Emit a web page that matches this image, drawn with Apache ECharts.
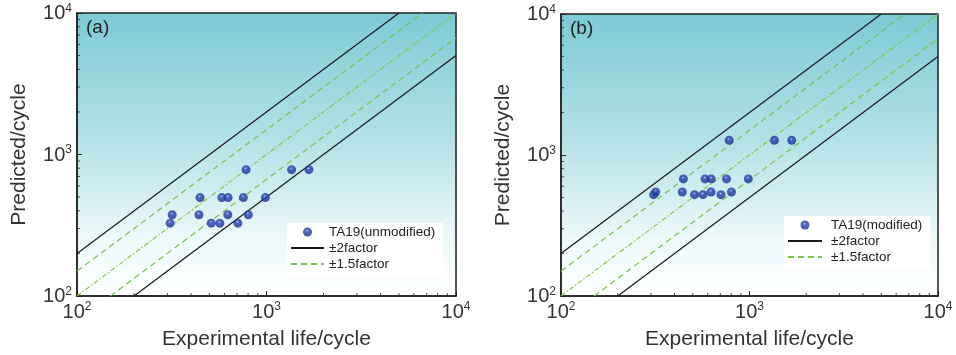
<!DOCTYPE html>
<html>
<head>
<meta charset="utf-8">
<script src="https://cdn.jsdelivr.net/npm/echarts@6/dist/echarts.min.js"></script>
<style>
html,body{margin:0;padding:0;background:#fff;}
#chart{width:956px;height:355px;}
</style>
</head>
<body>
<div id="chart"></div>
<script>
// ---- data ----
const experimental = [310, 318, 446, 440, 511, 567, 581, 627, 625, 706, 755, 780, 802, 986, 1356, 1675];
const predictedA = [327, 375, 496, 375, 327, 327, 496, 496, 375, 327, 496, 781, 375, 496, 781, 781];
const predictedB = [523, 546, 677, 546, 523, 523, 677, 677, 546, 523, 677, 1271, 546, 677, 1271, 1271];
const factor2Upper = [[100, 200], [5000, 10000]];
const factor2Lower = [[200, 100], [10000, 5000]];
const factor15Upper = [[100, 150], [6667, 10000]];
const factor15Lower = [[150, 100], [10000, 6667]];
const parityLine = [[100, 100], [10000, 10000]];
const axisMin = 100, axisMax = 10000;
const minorTickValues = [200, 300, 400, 500, 600, 700, 800, 900, 2000, 3000, 4000, 5000, 6000, 7000, 8000, 9000];
const panelLabels = ['(a)', '(b)'];
const scatterNames = ['TA19(unmodified)', 'TA19(modified)'];
const xName = 'Experimental life/cycle';
const yName = 'Predicted/cycle';

const chart = echarts.init(document.getElementById('chart'));
const FONT = 'Liberation Sans, Arial, sans-serif';

const grids = [
  {left: 77, top: 13, width: 379, height: 287},
  {left: 561, top: 14, width: 377, height: 285}
];
const bg = new echarts.graphic.LinearGradient(0, 0, 0, 1, [
  {offset: 0, color: '#7ccad4'},
  {offset: 0.45, color: '#b4e1e7'},
  {offset: 0.8, color: '#eef9fa'},
  {offset: 1, color: '#ffffff'}
]);
const sphere = new echarts.graphic.RadialGradient(0.45, 0.36, 0.6, [
  {offset: 0, color: '#dfe6ff'},
  {offset: 0.12, color: '#5a73d4'},
  {offset: 0.32, color: '#2541ae'},
  {offset: 1, color: '#1a2f90'}
]);

function expLabel(v) {
  const e = Math.round(Math.log10(v));
  return '{b|10}{s|' + e + '}';
}
const rich = {
  b: {fontSize: 20, fontFamily: FONT, color: '#333', verticalAlign: 'bottom'},
  s: {fontSize: 12, fontFamily: FONT, color: '#333', verticalAlign: 'bottom', padding: [0, 0, 9, 0]}
};

const xAxes = [], yAxes = [], series = [], legends = [], titles = [];
[0, 1].forEach(i => {
  xAxes.push({
    gridIndex: i, type: 'log', logBase: 10, min: axisMin, max: axisMax,
    name: xName, nameLocation: 'middle', nameGap: 33,
    nameTextStyle: {fontSize: 21, fontFamily: FONT, color: '#333'},
    axisLine: {show: true, lineStyle: {color: '#222', width: 1.5}},
    axisTick: {show: true, inside: true, length: 5, lineStyle: {color: '#222'}},
    axisLabel: {margin: 5, formatter: expLabel, rich: rich},
    splitLine: {show: false}
  });
  yAxes.push({
    gridIndex: i, type: 'log', logBase: 10, min: axisMin, max: axisMax,
    name: yName, nameLocation: 'middle', nameGap: 47,
    nameTextStyle: {fontSize: 21, fontFamily: FONT, color: '#333'},
    axisLine: {show: true, lineStyle: {color: '#222', width: 1.5}},
    axisTick: {show: true, inside: true, length: 5, lineStyle: {color: '#222'}},
    axisLabel: {margin: 5, formatter: expLabel, rich: rich},
    splitLine: {show: false}
  });
  const lineBase = {xAxisIndex: i, yAxisIndex: i, type: 'line', symbol: 'none', silent: true, animation: false, z: 2};
  const blackStyle = {color: '#1a1a1a', width: 1.2};
  const greenDash = {color: '#74c447', width: 1.2, type: [6, 4]};
  series.push(Object.assign({}, lineBase, {name: '±2factor', data: factor2Upper, lineStyle: blackStyle, itemStyle: {color: '#1a1a1a'}}));
  series.push(Object.assign({}, lineBase, {name: '±2factor', data: factor2Lower, lineStyle: blackStyle, itemStyle: {color: '#1a1a1a'}}));
  series.push(Object.assign({}, lineBase, {name: '±1.5factor', data: factor15Upper, lineStyle: greenDash, itemStyle: {color: '#74c447'}}));
  series.push(Object.assign({}, lineBase, {name: '±1.5factor', data: factor15Lower, lineStyle: greenDash, itemStyle: {color: '#74c447'}}));
  series.push(Object.assign({}, lineBase, {name: 'parity', data: parityLine, lineStyle: {color: '#7cc83c', width: 1.1, type: [5, 2, 1.5, 2]}}));
  const pred = i === 0 ? predictedA : predictedB;
  series.push({
    name: scatterNames[i], type: 'scatter', xAxisIndex: i, yAxisIndex: i,
    data: experimental.map((x, k) => [x, pred[k]]),
    symbol: 'circle', symbolSize: 9, z: 5, animation: false,
    itemStyle: {color: sphere}
  });
  // minor ticks (inside)
  series.push({
    type: 'scatter', xAxisIndex: i, yAxisIndex: i, silent: true, animation: false, clip: false,
    data: minorTickValues.map(v => [v, axisMin]),
    symbol: 'rect', symbolSize: [1, 3], symbolOffset: [0, -1.5], itemStyle: {color: '#222'}, z: 6
  });
  series.push({
    type: 'scatter', xAxisIndex: i, yAxisIndex: i, silent: true, animation: false, clip: false,
    data: minorTickValues.map(v => [axisMin, v]),
    symbol: 'rect', symbolSize: [3, 1], symbolOffset: [1.5, 0], itemStyle: {color: '#222'}, z: 6
  });
  titles.push({
    text: panelLabels[i], left: grids[i].left + 9, top: grids[i].top + 5,
    textStyle: {fontSize: 19, fontWeight: 'normal', fontFamily: FONT, color: '#222'}, padding: 0
  });
});
function legendData(first) {
  return [
    {name: first},
    {name: '±2factor', itemStyle: {opacity: 0}},
    {name: '±1.5factor', itemStyle: {opacity: 0}}
  ];
}
legends.push({
  data: legendData(scatterNames[0]),
  orient: 'vertical', left: 287, top: 223, padding: [2, 8, 6, 3],
  itemWidth: 33, itemHeight: 9, itemGap: 2, backgroundColor: '#ffffff',
  textStyle: {fontSize: 13.5, fontFamily: FONT, color: '#222'}, selectedMode: false
});
legends.push({
  data: legendData(scatterNames[1]),
  orient: 'vertical', left: 784, top: 216, padding: [2, 8, 6, 3],
  itemWidth: 34, itemHeight: 9, itemGap: 2, backgroundColor: '#ffffff',
  textStyle: {fontSize: 13.5, fontFamily: FONT, color: '#222', padding: [0, 0, 0, 4]}, selectedMode: false
});

chart.setOption({
  animation: false,
  backgroundColor: '#ffffff',
  title: titles,
  grid: grids.map(g => Object.assign({show: true, backgroundColor: bg, borderColor: '#222', borderWidth: 1.5}, g)),
  xAxis: xAxes,
  yAxis: yAxes,
  legend: legends,
  series: series
});
</script>
</body>
</html>
